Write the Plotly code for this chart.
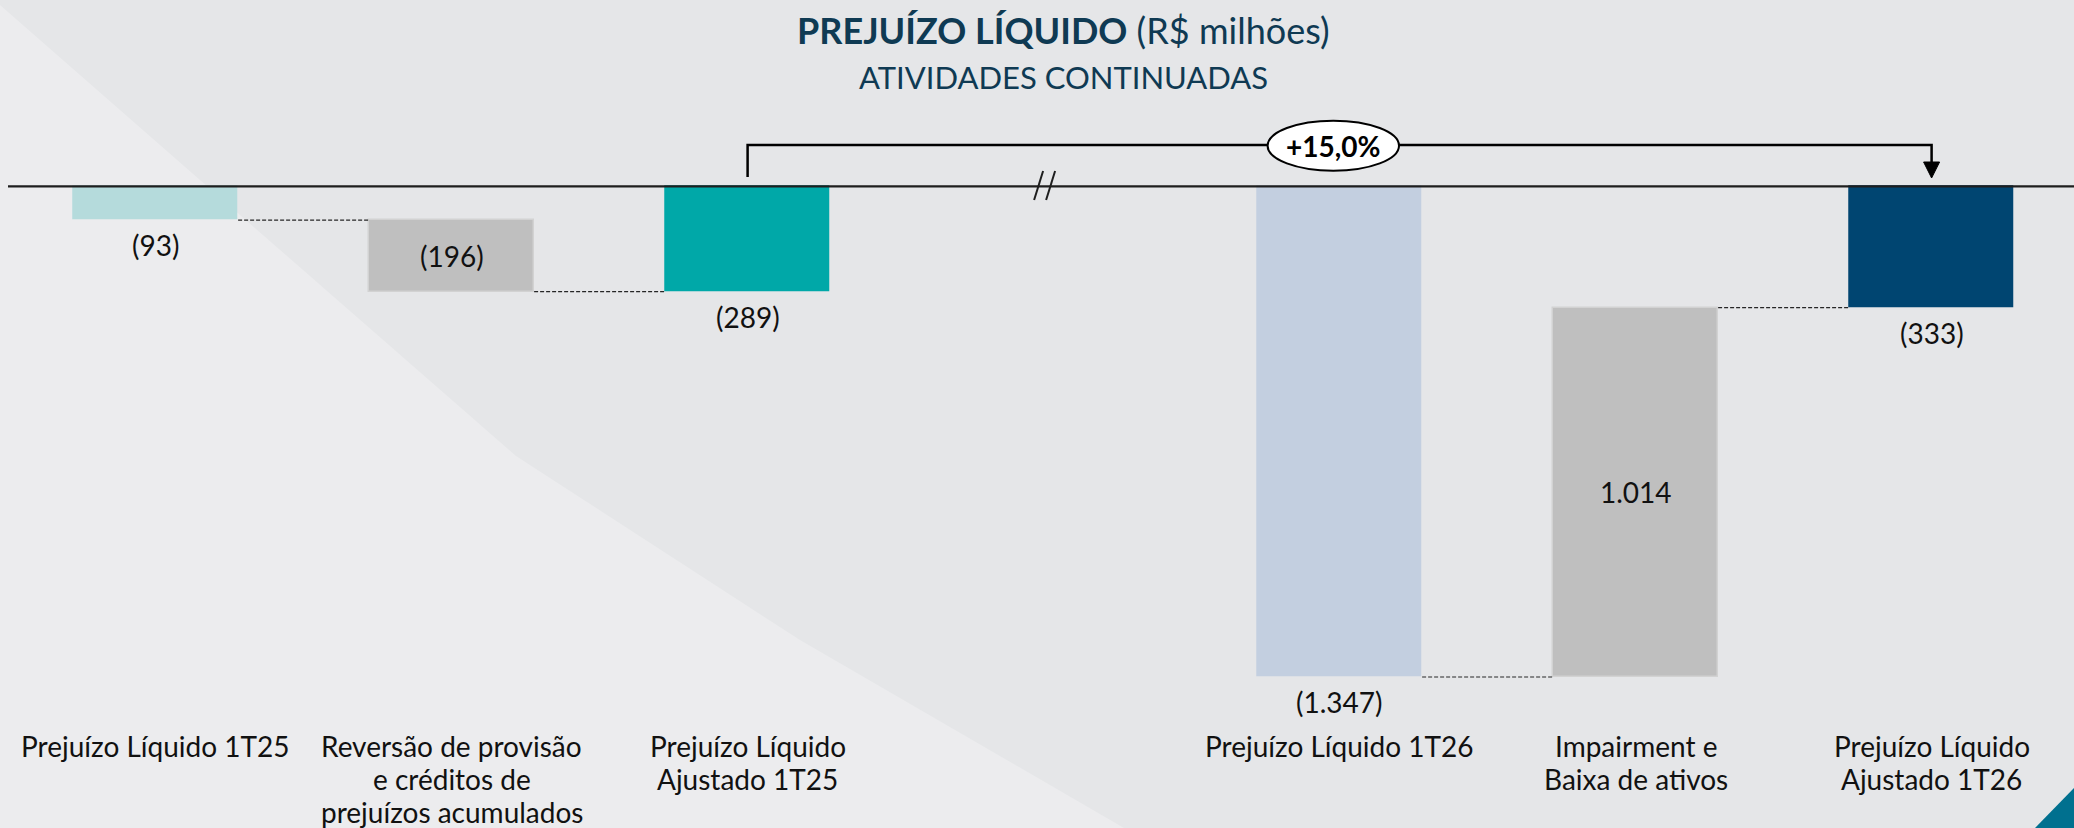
import plotly.graph_objects as go

# ---------------- data ----------------
categories = [
    "Prejuízo Líquido 1T25",
    "Reversão de provisão e créditos de prejuízos acumulados",
    "Prejuízo Líquido Ajustado 1T25",
    "Prejuízo Líquido 1T26",
    "Impairment e Baixa de ativos",
    "Prejuízo Líquido Ajustado 1T26",
]
label_lines = [
    ["Prejuízo Líquido 1T25"],
    ["Reversão de provisão", "e créditos de", "prejuízos acumulados"],
    ["Prejuízo Líquido", "Ajustado 1T25"],
    ["Prejuízo Líquido 1T26"],
    ["Impairment e", "Baixa de ativos"],
    ["Prejuízo Líquido", "Ajustado 1T26"],
]
values = [-93, -196, -289, -1347, 1014, -333]
kinds = ["total", "relative", "total", "total", "relative", "total"]
positions = [0, 1, 2, 4, 5, 6]          # slot 3 is the axis break
bar_colors = ["#B5DBDC", "#BFBFBF", "#00A8A8", "#C3CFE0", "#BFBFBF", "#004571"]
change_label = "+15,0%"

# ---------------- geometry ----------------
W, H = 2074, 828
ZERO_PX = 186.3
K = 0.3643                      # px per unit
X0_PX, DX_PX = 155.6, 296.0
BAR_W = 0.5575
y_top = ZERO_PX / K
y_bot = -(H - ZERO_PX) / K
x_left = -X0_PX / DX_PX
x_right = (W - X0_PX) / DX_PX


def ydata(py):
    return (ZERO_PX - py) / K


def px_x(xd):
    return X0_PX + xd * DX_PX


def fmt(v):
    s = f"{abs(v):,}".replace(",", ".")
    return f"({s})" if v < 0 else s


# bases for the waterfall
bases, ends = [], []
running = 0
for v, k in zip(values, kinds):
    if k == "total":
        base = 0
        running = v
    else:
        base = running
        running = running + v
    bases.append(base)
    ends.append(running)

FONT = "Lato"
FS = 28
fig = go.Figure()
fig.add_trace(go.Bar(
    x=positions, y=values, base=bases, width=BAR_W,
    marker=dict(color=bar_colors,
                line=dict(color=["rgba(0,0,0,0)", "#D2D2D2", "rgba(0,0,0,0)",
                                 "rgba(0,0,0,0)", "#D2D2D2", "rgba(0,0,0,0)"], width=1.5)),
    hovertext=categories, hoverinfo="text+y", showlegend=False,
))

shapes = []
annotations = []

# background shapes
shapes.append(dict(type="path", xref="paper", yref="paper", layer="below",
                   path="M 0 {a} L {b} {c} L {d} {e} L {f} {g} L {h} 0 L 0 0 Z".format(
                       a=1 - 5 / H, b=200 / W, c=1 - 180 / H, d=516 / W, e=1 - 456 / H,
                       f=800 / W, g=1 - 640 / H, h=1124 / W),
                   fillcolor="#ECECEE", line=dict(width=0)))
shapes.append(dict(type="path", xref="paper", yref="paper", layer="above",
                   path=f"M {2035 / W} 0 L 1 {40 / H} L 1 0 Z",
                   fillcolor="#00708F", line=dict(width=0)))

# zero line
shapes.append(dict(type="line", xref="paper", yref="y", x0=8 / W, x1=1, y0=0, y1=0,
                   line=dict(color="#1E1E1E", width=2.2), layer="above"))

# connectors (not across the axis break)
for i in range(len(positions) - 1):
    if positions[i + 1] - positions[i] > 1:
        continue
    level = ends[i]
    shapes.append(dict(type="line", xref="x", yref="y",
                       x0=positions[i] + BAR_W / 2, x1=positions[i + 1] - BAR_W / 2,
                       y0=level, y1=level,
                       line=dict(color="#262626", width=1.2, dash="4px,2px")))

# axis break marks
bx = px_x(3)
for off in (-9.5, 2.5):
    shapes.append(dict(type="line", xref="paper", yref="paper",
                       x0=(bx + off) / W, x1=(bx + off + 9) / W,
                       y0=1 - 200 / H, y1=1 - 171 / H,
                       line=dict(color="#1E1E1E", width=2)))

# bracket
xa, xb = positions[2], positions[5]
y_br = ydata(145)
shapes.append(dict(type="path", xref="x", yref="y",
                   path=f"M {xa} {ydata(177)} L {xa} {y_br} L {xb} {y_br} L {xb} {ydata(163)}",
                   line=dict(color="#000000", width=2.5)))
tx = 8 / DX_PX
shapes.append(dict(type="path", xref="x", yref="y",
                   path=f"M {xb - tx} {ydata(162)} L {xb + tx} {ydata(162)} L {xb} {ydata(178)} Z",
                   fillcolor="#000000", line=dict(color="#000000", width=1)))
shapes.append(dict(type="circle", xref="paper", yref="paper",
                   x0=1267.6 / W, x1=1399 / W, y0=1 - 170.7 / H, y1=1 - 120.7 / H,
                   fillcolor="#FFFFFF", line=dict(color="#000000", width=2)))
annotations.append(dict(xref="paper", yref="paper", x=1333 / W, y=1 - 146 / H,
                        text=f"<b>{change_label}</b>", showarrow=False,
                        font=dict(family=FONT, size=28, color="#000000"),
                        xanchor="center", yanchor="middle"))

# value labels
for p, v, b, e, k in zip(positions, values, bases, ends, kinds):
    if k == "relative":
        annotations.append(dict(x=p, y=(b + e) / 2, xref="x", yref="y", text=fmt(v),
                                showarrow=False, font=dict(family=FONT, size=FS, color="#111111"),
                                xanchor="center", yanchor="middle"))
    else:
        annotations.append(dict(x=p, y=e, xref="x", yref="y", text=fmt(v),
                                showarrow=False, font=dict(family=FONT, size=FS, color="#111111"),
                                xanchor="center", yanchor="middle", yshift=-25))

# category labels
line_py = [746, 779, 812]
for p, lines in zip(positions, label_lines):
    for j, ln in enumerate(lines):
        annotations.append(dict(x=p, y=1 - line_py[j] / H, xref="x", yref="paper", text=ln,
                                showarrow=False, font=dict(family=FONT, size=FS, color="#111111"),
                                xanchor="center", yanchor="middle"))

# title
annotations.append(dict(xref="paper", yref="paper", x=1063 / W, y=1 - 30 / H,
                        text="<b>PREJUÍZO LÍQUIDO</b> (R$ milhões)", showarrow=False,
                        font=dict(family=FONT, size=36, color="#0F3A53"),
                        xanchor="center", yanchor="middle"))
annotations.append(dict(xref="paper", yref="paper", x=1063 / W, y=1 - 77 / H,
                        text="ATIVIDADES CONTINUADAS", showarrow=False,
                        font=dict(family=FONT, size=31, color="#0F3A53"),
                        xanchor="center", yanchor="middle"))

fig.update_layout(
    width=W, height=H,
    margin=dict(l=0, r=0, t=0, b=0),
    paper_bgcolor="#E5E6E8",
    plot_bgcolor="rgba(0,0,0,0)",
    xaxis=dict(range=[x_left, x_right], visible=False, fixedrange=True),
    yaxis=dict(range=[y_bot, y_top], visible=False, fixedrange=True),
    shapes=shapes,
    annotations=annotations,
    bargap=0,
    showlegend=False,
)

fig.write_html(
    "out.html",
    config={"displayModeBar": False},
    post_script="document.body.style.margin='0';document.body.style.padding='0';"
                "document.body.style.overflow='hidden';",
)
